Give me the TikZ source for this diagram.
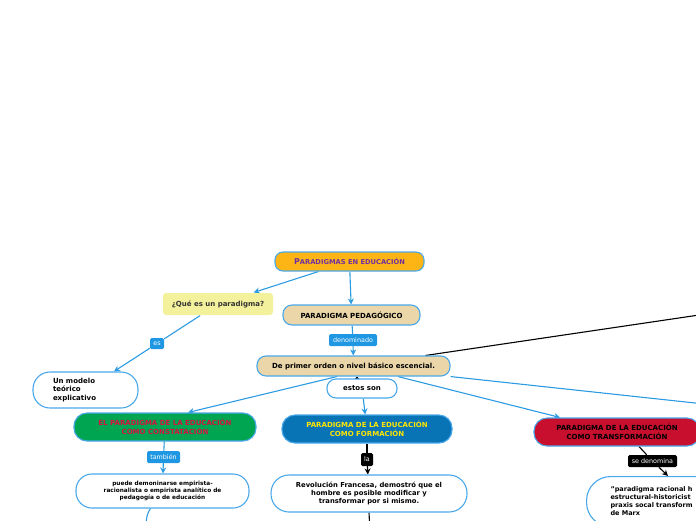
\documentclass[tikz,border=0pt]{standalone}
\usepackage{fontspec}
\setmainfont{DejaVu Sans}
\usetikzlibrary{arrows.meta,calc,backgrounds}
\definecolor{lineblue}{HTML}{2D9BE2}
\definecolor{bord}{HTML}{4AA8EA}
\definecolor{labblue}{HTML}{1F97E2}
\definecolor{gold}{HTML}{FDB515}
\definecolor{purp}{HTML}{7030A0}
\definecolor{paleyel}{HTML}{F4F19C}
\definecolor{tan}{HTML}{EAD6A8}
\definecolor{grn}{HTML}{00A551}
\definecolor{redtxt}{HTML}{D41442}
\definecolor{formblue}{HTML}{0874B6}
\definecolor{yeltxt}{HTML}{FFE600}
\definecolor{crim}{HTML}{C8102E}
\definecolor{darktxt}{HTML}{333333}
\begin{document}
\begin{tikzpicture}[x=1pt,y=-1pt,
  bx/.style={draw=bord,line width=1.1pt,inner sep=0pt,align=center,
    font=\bfseries\fontsize{7}{8.5}\selectfont},
  lab/.style={fill=labblue,text=white,inner sep=0pt,rounded corners=1.5pt,
    font=\fontsize{6.4}{7}\selectfont},
  blab/.style={fill=black,text=white,inner sep=0pt,rounded corners=1.5pt,
    font=\fontsize{6.4}{7}\selectfont},
  conn/.style={draw=lineblue,line width=1.1pt},
  bconn/.style={draw=black,line width=1.1pt},
  arr/.style={-{Stealth[length=6pt,width=6pt]}}
]
\useasboundingbox (0,0) rectangle (696,520);
\clip (0,0) rectangle (696,520);

% nodes
\node[bx,fill=gold,text=purp,minimum width=149pt,minimum height=19pt,rounded corners=8pt] (top) at (349.5,261.5)
  {{\fontsize{8}{8}\selectfont P}{\fontsize{6.7}{8}\selectfont ARADIGMAS EN EDUCACIÓN}};
\node[bx,draw=none,fill=paleyel,text=darktxt,minimum width=110pt,minimum height=22pt,rounded corners=3pt] (que) at (218,304)
  {¿Qué es un paradigma?};
\node[bx,fill=tan,minimum width=137pt,minimum height=20pt,rounded corners=9pt] (ped) at (351.5,315)
  {PARADIGMA PEDAGÓGICO};
\node[lab,minimum width=48pt,minimum height=12pt] (denom) at (353,340) {denominado};
\node[bx,fill=tan,minimum width=193pt,minimum height=20pt,rounded corners=9pt] (prim) at (353.5,366)
  {De primer orden o nivel básico escencial.};
\node[lab,minimum width=14pt,minimum height=11pt] (es) at (157,343.5) {es};
\node[bx,fill=white,minimum width=105pt,minimum height=36pt,rounded corners=17pt,text width=65pt,align=left] (modelo) at (85.5,390)
  {Un modelo\\teórico\\explicativo};
\node[bx,fill=white,minimum width=70pt,minimum height=19pt,rounded corners=9pt] (estos) at (362,388.5)
  {estos son};
\node[bx,fill=grn,text=redtxt,minimum width=182pt,minimum height=28pt,rounded corners=13pt] (const) at (165,427)
  {EL PARADIGMA DE LA EDUCACIÓN\\COMO CONSTATACIÓN};
\node[lab,minimum width=33pt,minimum height=12pt] (tamb) at (163.5,457) {también};
\node[bx,fill=white,minimum width=173pt,minimum height=34pt,rounded corners=16pt,
  font=\bfseries\fontsize{5.8}{7.3}\selectfont] (puede) at (162.5,491)
  {puede demoninarse empirista-\\racionalista o empirista analítico de\\pedagogía o de educación};
\node[bx,fill=formblue,text=yeltxt,minimum width=170pt,minimum height=28pt,rounded corners=13pt] (form) at (367,429)
  {PARADIGMA DE LA EDUCACIÓN\\COMO FORMACIÓN};
\node[blab,minimum width=12pt,minimum height=13pt] (la) at (367,459.5) {la};
\node[bx,fill=white,minimum width=196pt,minimum height=37pt,rounded corners=18pt,
  font=\bfseries\fontsize{6.8}{8.3}\selectfont] (rev) at (369,493.5)
  {Revolución Francesa, demostró que el\\hombre es posible modificar y\\transformar por si mismo.};
\node[bx,fill=crim,minimum width=166pt,minimum height=28pt,rounded corners=13pt] (trans) at (617,432)
  {PARADIGMA DE LA EDUCACIÓN\\COMO TRANSFORMACIÓN};
\node[blab,minimum width=49pt,minimum height=12pt] (sedenom) at (652.5,461) {se denomina};
\node[bx,fill=white,anchor=north west,minimum width=200pt,minimum height=50pt,rounded corners=24pt,
  align=left,text width=170pt,inner xsep=24pt,font=\bfseries\fontsize{6.5}{8}\selectfont] (marx) at (586,476)
  {"paradigma racional h\\estructural-historicist\\praxis socal transform\\de Marx};

\coordinate (offR) at (760,410);
\coordinate (offB) at (760,306);
\coordinate (pc) at (145,532);
\coordinate (rc) at (370,532);

% connectors
\begin{scope}[on background layer]
\draw[conn,arr] (top) -- (que);
\draw[conn,arr] (top) -- (ped);
\draw[conn] (ped) -- (denom);
\draw[conn,arr] (denom) -- (prim);
\draw[conn] (que) -- (es);
\draw[conn,arr] (es) -- (modelo);
\draw[conn,arr] ($(prim.south)+(-16.5,0)$) -- ($(const.north)+(23,0)$);
\draw[conn,arr] ($(prim.south)+(44.5,0)$) -- ($(trans.north)+(-57,0)$);
\draw[conn] (prim.south east) -- (offR);
\draw[bconn] ($(prim.north east)+(-25,0)$) -- (offB);
\draw[bconn,-{Stealth[length=3pt,width=6pt]}] ($(estos.north)+(-5,1)$) -- ($(prim.south)+(3.5,0)$);
\draw[conn,arr] (estos) -- (form);
\draw[conn] (const) -- (tamb);
\draw[conn,arr] (tamb) -- (puede);
\draw[bconn] (form) -- (la);
\draw[bconn,arr] (la) -- (rev);
\draw[bconn] ($(trans.south)+(22,0)$) -- (sedenom);
\draw[bconn,arr] (sedenom) -- ($(marx.north west)+(82,0)$);
\draw[conn] ($(puede.south)+(-12,0)$) .. controls (147,514) .. (pc);
\draw[bconn] (rev.south) -- (rc);
\end{scope}
\end{tikzpicture}
\end{document}
